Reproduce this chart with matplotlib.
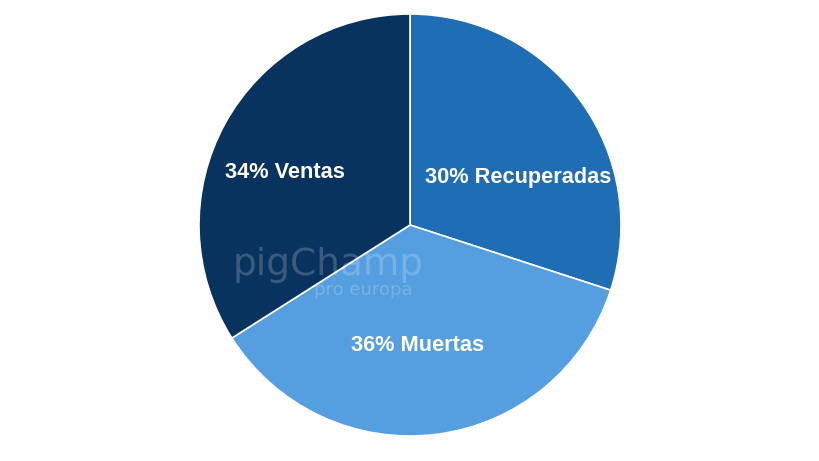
import matplotlib
matplotlib.use("Agg")
import matplotlib.pyplot as plt

categories = ["Recuperadas", "Muertas", "Ventas"]
values = [30, 36, 34]
colors = ["#1f6db5", "#559fe0", "#07335e"]
label_pos = [(0.512, 0.223), (0.038, -0.569), (-0.592, 0.251)]

W, H = 820, 461
cx, cy, r = 410, 225, 211
fig = plt.figure(figsize=(W / 100, H / 100), dpi=100)
ax = fig.add_axes([(cx - r) / W, (H - cy - r) / H, 2 * r / W, 2 * r / H])
ax.pie(values, colors=colors, startangle=90, counterclock=False, radius=1,
       wedgeprops=dict(edgecolor="white", linewidth=1.2))
ax.set_xlim(-1, 1)
ax.set_ylim(-1, 1)
ax.set_aspect("equal")
ax.axis("off")

# faint watermark
ax.text(-0.39, -0.19, "pigChamp", color="white", alpha=0.2, fontsize=27,
        fontfamily="DejaVu Sans", ha="center", va="center")
ax.text(-0.22, -0.31, "pro europa", color="white", alpha=0.2, fontsize=13,
        fontfamily="DejaVu Sans", ha="center", va="center")

for cat, v, (x, y) in zip(categories, values, label_pos):
    ax.text(x, y, f"{v}% {cat}", color="white", fontsize=15.7, fontweight="bold",
            fontfamily="Liberation Sans", ha="center", va="center")

fig.savefig("out.png", dpi=100)
